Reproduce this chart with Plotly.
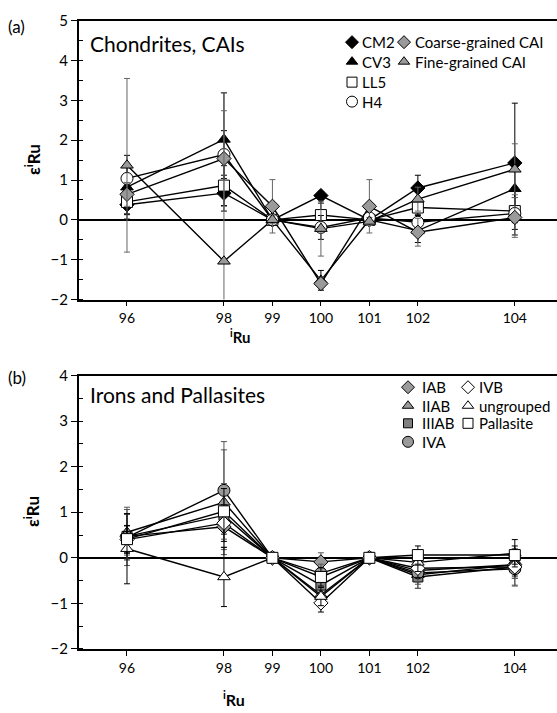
import plotly.graph_objects as go

# ---------------- data ----------------
iso = [96, 98, 99, 100, 101, 102, 104]
iso_labels = ["96", "98", "99", "100", "101", "102", "104"]

# Panel (a) Chondrites, CAIs
cm2 = [0.38, 0.67, 0.0, 0.61, 0.0, 0.80, 1.43]
cm2_err = [0.25, 0.45, 0.0, 0.10, 0.0, 0.32, 1.50]
cv3 = [0.82, 2.02, 0.0, -1.52, 0.0, -0.27, 0.78]
cv3_err = [0.80, 1.17, 0.0, 0.25, 0.0, 0.30, 0.60]
ll5 = [0.45, 0.86, 0.0, 0.12, 0.0, 0.31, 0.22]
ll5_err = [0.30, 0.50, 0.0, 0.30, 0.0, 0.20, 0.60]
h4 = [1.04, 1.64, 0.0, -0.19, 0.05, -0.06, 0.16]
h4_err = [0.30, 0.60, 0.0, 0.30, 0.0, 0.20, 0.40]
coarse = [0.64, 1.54, 0.34, -1.60, 0.34, -0.31, 0.06]
coarse_err = [0.30, 1.20, 0.67, 0.16, 0.67, 0.35, 0.50]
fine = [1.37, -1.04, 0.0, -0.22, -0.04, 0.52, 1.27]
fine_err = [2.18, 4.23, 0.10, 0.69, 0.10, 0.30, 0.64]

# Panel (b) Irons and Pallasites
iab = [0.47, 0.68, 0.0, -0.09, 0.0, -0.28, -0.15]
iab_err = [0.50, 0.50, 0.0, 0.20, 0.0, 0.30, 0.30]
iiab = [0.56, 1.22, 0.0, -0.81, 0.0, -0.37, -0.15]
iiab_err = [0.50, 1.15, 0.0, 0.20, 0.0, 0.30, 0.30]
iiiab = [0.47, 0.93, 0.0, -0.60, 0.0, -0.42, -0.20]
iiiab_err = [0.64, 0.70, 0.0, 0.20, 0.0, 0.25, 0.40]
iva = [0.45, 1.48, 0.0, -0.34, 0.0, -0.33, -0.24]
iva_err = [0.50, 1.07, 0.0, 0.20, 0.0, 0.20, 0.38]
ivb = [0.40, 0.76, 0.0, -0.99, 0.0, -0.23, -0.20]
ivb_err = [0.30, 0.40, 0.0, 0.20, 0.0, 0.20, 0.20]
ungrouped = [0.20, -0.42, 0.0, -0.85, 0.0, -0.10, 0.10]
ungrouped_err = [0.77, 0.65, 0.0, 0.20, 0.0, 0.20, 0.30]
pallasite = [0.41, 1.02, 0.0, -0.42, 0.0, 0.06, 0.06]
pallasite_err = [0.30, 0.50, 0.0, 0.20, 0.0, 0.20, 0.20]

# ---------------- styles ----------------
W, H = 557, 713
FONT = "Lato"
GRAY = "#9a9a9a"
DGRAY = "#7f7f7f"

# name, values, errors, symbol, fill, errcolor, size
series_a = [
    ("CM2", cm2, cm2_err, "diamond", "black", "black", 11),
    ("CV3", cv3, cv3_err, "triangle-up", "black", "black", 11),
    ("LL5", ll5, ll5_err, "square", "white", "black", 11),
    ("H4", h4, h4_err, "circle", "white", "black", 12),
    ("Coarse-grained CAI", coarse, coarse_err, "diamond", GRAY, "#666666", 11),
    ("Fine-grained CAI", fine, fine_err, "triangle-up", GRAY, "#666666", 11),
]
series_b = [
    ("IAB", iab, iab_err, "diamond", GRAY, "#555555", 11),
    ("IIAB", iiab, iiab_err, "triangle-up", GRAY, "#555555", 11),
    ("IIIAB", iiiab, iiiab_err, "square", DGRAY, "#555555", 10),
    ("IVA", iva, iva_err, "circle", GRAY, "#555555", 12),
    ("IVB", ivb, ivb_err, "diamond", "white", "black", 11),
    ("ungrouped", ungrouped, ungrouped_err, "triangle-up", "white", "black", 11),
    ("Pallasite", pallasite, pallasite_err, "square", "white", "black", 11),
]

# legend layout (pixel positions of key rows/columns)
legend_a = [  # (series index, marker x, text x, row y)
    (0, 352, 360, 33), (1, 352, 360, 53), (2, 352, 360, 74), (3, 352, 360, 94),
    (4, 404, 413, 33), (5, 404, 413, 53),
]
legend_b = [
    (0, 408, 420, 387), (1, 408, 420, 406), (2, 408, 420, 424), (3, 408, 420, 443),
    (4, 468, 477, 387), (5, 468, 477, 406), (6, 468, 477, 424),
]
LEG_FONT = 15

fig = go.Figure()

def add_panel(series, xa, ya):
    for name, vals, err, sym, fill, ecol, size in series:
        fig.add_trace(go.Scatter(x=iso, y=vals, mode="lines", xaxis=xa, yaxis=ya,
                                 line=dict(color="black", width=1.4),
                                 showlegend=False, hoverinfo="skip"))
    for name, vals, err, sym, fill, ecol, size in series:
        fig.add_trace(go.Scatter(
            x=iso, y=vals, mode="markers", name=name, xaxis=xa, yaxis=ya,
            marker=dict(symbol=sym, size=size, color=fill,
                        line=dict(color="black", width=1)),
            error_y=dict(type="data", array=err, visible=True,
                         color=ecol, thickness=1, width=3),
            showlegend=False))

add_panel(series_a, "x", "y")
add_panel(series_b, "x2", "y2")

annotations = []

def add_legend(series, entries):
    for idx, mx, tx, ry in entries:
        name, vals, err, sym, fill, ecol, size = series[idx]
        fig.add_trace(go.Scatter(
            x=[mx], y=[ry], mode="markers", xaxis="x3", yaxis="y3",
            marker=dict(symbol=sym, size=size - 1, color=fill,
                        line=dict(color="black", width=1)),
            showlegend=False, hoverinfo="skip"))
        annotations.append(dict(
            x=tx / W, y=1 - ry / H, xref="paper", yref="paper",
            text=name, showarrow=False, xanchor="left", yanchor="middle",
            font=dict(family=FONT, size=LEG_FONT, color="black")))

add_legend(series_a, legend_a)
add_legend(series_b, legend_b)

def txt(x, y, s, size, xanchor="left", angle=0, yanchor="middle"):
    annotations.append(dict(x=x / W, y=1 - y / H, xref="paper", yref="paper",
                            text=s, showarrow=False, xanchor=xanchor,
                            yanchor=yanchor, textangle=angle, borderpad=0,
                            font=dict(family=FONT, size=size, color="black")))

txt(7, 17, "(a)", 17)
txt(7, 377, "(b)", 17)
txt(89, 34, "Chondrites, CAIs", 21)
txt(89, 394, "Irons and Pallasites", 21)
txt(32, 154, "<b>ε<sup>i</sup>Ru</b>", 17, xanchor="center", angle=-90)
txt(32, 515, "<b>ε<sup>i</sup>Ru</b>", 17, xanchor="center", angle=-90)
txt(240, 324, "<b><sup>i</sup>Ru</b>", 15, xanchor="center", yanchor="top")
txt(234, 695, "<b><sup>i</sup>Ru</b>", 16, xanchor="center", yanchor="top")

left = 79 / W
xcommon = dict(range=[95.01, 104.87], tickmode="array", tickvals=iso, ticktext=iso_labels,
               ticks="outside", ticklen=5, tickwidth=1, tickcolor="black",
               showline=True, linecolor="black", linewidth=1.6, mirror=True,
               showgrid=False, zeroline=False, domain=[left, 1.0],
               tickfont=dict(family=FONT, size=14, color="black"))
ycommon = dict(dtick=1, ticks="outside", ticklen=6, tickwidth=1, tickcolor="black",
               showline=True, linecolor="black", linewidth=2,
               showgrid=False, zeroline=True, zerolinecolor="black", zerolinewidth=1.6,
               minor=dict(dtick=0.5, ticks="inside", ticklen=4, tickcolor="black", tickwidth=1),
               tickfont=dict(family=FONT, size=15, color="black"))

fig.update_layout(
    width=W, height=H, margin=dict(l=0, r=0, t=0, b=0),
    paper_bgcolor="white", plot_bgcolor="rgba(0,0,0,0)", showlegend=False,
    font=dict(family=FONT, color="black"),
    xaxis=dict(anchor="y", **xcommon),
    yaxis=dict(anchor="x", range=[-2, 5], domain=[1 - 297 / H, 1 - 11 / H], **ycommon),
    xaxis2=dict(anchor="y2", **xcommon),
    yaxis2=dict(anchor="x2", range=[-2, 4], domain=[1 - 655.5 / H, 1 - 375 / H], **ycommon),
    xaxis3=dict(anchor="y3", domain=[0, 1], range=[0, W], visible=False, fixedrange=True),
    yaxis3=dict(anchor="x3", domain=[0, 1], range=[H, 0], visible=False, fixedrange=True),
    annotations=annotations,
)

fig.write_html("out.html")
